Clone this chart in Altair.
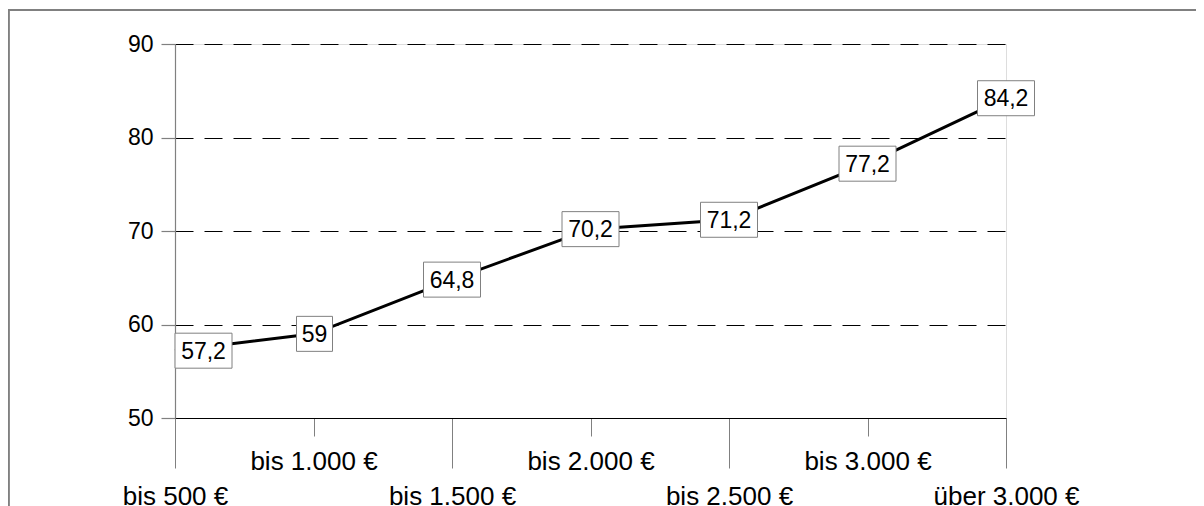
import json
import altair as alt
import pandas as pd

categories = ["bis 500 €", "bis 1.000 €", "bis 1.500 €", "bis 2.000 €",
              "bis 2.500 €", "bis 3.000 €", "über 3.000 €"]
values = [57.2, 59, 64.8, 70.2, 71.2, 77.2, 84.2]
labels = ["57,2", "59", "64,8", "70,2", "71,2", "77,2", "84,2"]
y_ticks = [50, 60, 70, 80, 90]

df = pd.DataFrame({"cat": categories, "val": values, "lab": labels,
                   "idx": list(range(len(categories)))})

FONT = "Liberation Sans"
FS = 23
XFS = 26
GRAY = "#808080"
cats_js = json.dumps(categories, ensure_ascii=False)
even_test = f"indexof({cats_js}, datum.value) % 2 === 0"

x_enc = alt.X("cat:N", sort=categories,
              scale=alt.Scale(type="point", padding=0),
              axis=alt.Axis(title=None, labelAngle=0, labelFont=FONT, labelFontSize=XFS,
                            labelColor="black", labelOverlap=False,
                            labelBaseline="middle",
                            domainColor="black", domainWidth=1,
                            tickColor=GRAY, tickWidth=1,
                            tickSize={"condition": {"test": even_test, "value": 50}, "value": 18},
                            labelPadding={"condition": {"test": even_test, "value": 28}, "value": 25},
                            grid=False))
y_enc = alt.Y("val:Q", scale=alt.Scale(domain=[50, 90], nice=False, zero=False),
              axis=alt.Axis(title=None, values=y_ticks, labelFont=FONT, labelFontSize=FS,
                            labelColor="black", labelPadding=8,
                            domainColor=GRAY, domainWidth=1.2,
                            tickColor=GRAY, tickSize=14, tickWidth=1.2,
                            grid=True, gridColor="black", gridWidth=1,
                            gridDash=[18, 11]))

base = alt.Chart(df)

frame_top = base.mark_rule(color=GRAY, strokeWidth=1.5).encode(
    x=alt.value(-167), x2=alt.value(1030), y=alt.value(-34))
frame_left = base.mark_rule(color=GRAY, strokeWidth=1.5).encode(
    x=alt.value(-166.5), y=alt.value(-34), y2=alt.value(480))

line = base.mark_line(color="black", strokeWidth=3).encode(x=x_enc, y=y_enc)

def box(filter_expr, x_off, x2_off):
    return base.transform_filter(filter_expr).mark_rect(
        fill="white", stroke=GRAY, strokeWidth=1,
        xOffset=x_off, x2Offset=x2_off, yOffset=-17.5, y2Offset=17.5
    ).encode(x=x_enc, x2="cat:N", y=y_enc, y2="val:Q")

def txt(filter_expr, dx):
    return base.transform_filter(filter_expr).mark_text(
        font=FONT, fontSize=FS, color="black", align="center",
        baseline="middle", dx=dx, dy=1
    ).encode(x=x_enc, y=y_enc, text="lab:N")

first = "datum.idx === 0"
short = "datum.idx !== 0 && length(datum.lab) <= 2"
normal = "datum.idx !== 0 && length(datum.lab) > 2"

chart = alt.layer(
    frame_top, frame_left, line,
    box(first, 0, 57), box(short, -17, 19), box(normal, -28.5, 28.5),
    txt(first, 28.5), txt(short, 1), txt(normal, 0),
).properties(
    width=831, height=374,
    autosize=alt.AutoSizeParams(type="none"),
    padding={"left": 167, "top": 36, "right": 190, "bottom": 92},
).configure_view(strokeWidth=0).configure(font=FONT)

chart.save("out.html", embed_options={"renderer": "svg", "actions": False})
